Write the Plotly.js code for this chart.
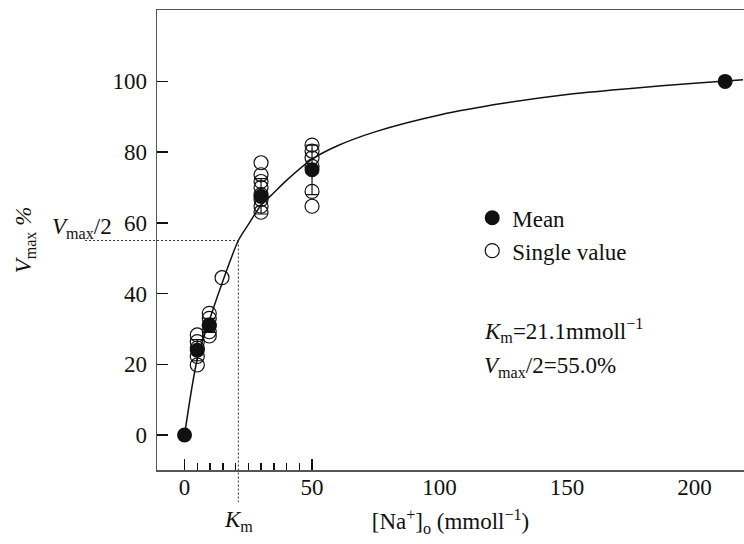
<!DOCTYPE html>
<html>
<head>
<meta charset="utf-8">
<script src="https://cdn.plot.ly/plotly-3.0.1.min.js"></script>
<style>html,body{margin:0;padding:0;background:#fff;}#chart{width:744px;height:544px;}</style>
</head>
<body>
<div id="chart"></div>
<script>
// ---- data ----
var meanX = [0, 5, 9.7, 30, 50, 212];
var meanY = [0, 24, 31, 67.5, 75, 100];
var meanErr = [0, 3, 2, 5, 7, 0];

var singleX = [5, 5, 5, 5, 5, 9.7, 9.7, 9.7, 9.7, 9.7, 14.7, 30, 30, 30, 30, 30, 30, 30, 30, 50, 50, 50, 50, 50, 50];
var singleY = [28.3, 26.4, 24.6, 22.2, 19.8, 34.4, 33, 31.1, 29.2, 28, 44.5, 77, 73.6, 71.7, 70, 68, 66.6, 64.7, 63, 82, 80.3, 78.4, 76, 68.9, 64.7];

var curveX = [0, 5, 10, 15, 21.1, 25, 30, 35, 40, 50, 60, 75, 100, 125, 150, 175, 200, 219];
var curveY = [0, 21.5, 33, 43.5, 55, 59.5, 65, 68.5, 72, 78, 81.8, 85.8, 90.5, 93.8, 96.3, 98, 99.5, 100.5];

var Km = 21.1;
var halfVmax = 55.0;
var xTickVals = [0, 50, 100, 150, 200];
var xLongTickVals = [0, 50];
var xMinorTickVals = [0, 5, 10, 15, 20, 25, 30, 35, 40, 45, 50];
var yTickVals = [0, 20, 40, 60, 80, 100];
var legendNames = ['Mean', 'Single value'];

// ---- layout helpers ----
var xRange = [-10.8, 219.4];
var yRange = [-9.9, 120.2];
function px(x) { return (x - xRange[0]) / (xRange[1] - xRange[0]); }
function py(y) { return (y - yRange[0]) / (yRange[1] - yRange[0]); }
var hLineStart = -39;   // where the dotted Vmax/2 guide starts (data units)
var vLineEnd = -19;     // where the dotted Km guide ends (data units)

var serif = 'Liberation Serif, Times New Roman, serif';
var ink = '#111';
var fs = 23;

var traces = [
  {
    x: curveX, y: curveY, type: 'scatter', mode: 'lines', xaxis: 'x2', yaxis: 'y',
    line: {color: ink, width: 1.5, shape: 'spline', smoothing: 0.8},
    showlegend: false, hoverinfo: 'skip'
  },
  {
    x: singleX, y: singleY, type: 'scatter', mode: 'markers', name: legendNames[1],
    marker: {symbol: 'circle-open', size: 14, color: ink, line: {width: 1.2, color: ink}},
    cliponaxis: false
  },
  {
    x: meanX, y: meanY, type: 'scatter', mode: 'markers', name: legendNames[0],
    marker: {symbol: 'circle', size: 15, color: ink},
    error_y: {type: 'data', array: meanErr, visible: true, color: ink, thickness: 1.2, width: 6},
    cliponaxis: false
  }
];

var layout = {
  width: 744, height: 544,
  margin: {l: 157, r: 0, t: 10, b: 74},
  paper_bgcolor: '#fff', plot_bgcolor: '#fff',
  font: {family: serif, color: ink, size: fs},
  showlegend: true,
  legend: {
    x: 0.537, y: 0.595, xanchor: 'left', yanchor: 'top',
    font: {family: serif, size: fs, color: ink},
    traceorder: 'reversed', tracegroupgap: 6, itemsizing: 'trace',
    bgcolor: 'rgba(0,0,0,0)', borderwidth: 0
  },
  xaxis: {
    range: xRange, showgrid: false, zeroline: false,
    showline: true, linecolor: '#555', linewidth: 1.5, mirror: true,
    tickmode: 'array', tickvals: xTickVals, ticks: '', ticklabelstandoff: -4,
    minor: {tickvals: xMinorTickVals, ticks: 'inside', ticklen: 7, tickwidth: 1.5, tickcolor: ink},
    tickfont: {family: serif, size: fs, color: ink},
    title: {text: '[Na<sup>+</sup>]<sub>o</sub> (mmoll<sup>−1</sup>)', font: {family: serif, size: fs, color: ink}, standoff: 14}
  },
  xaxis2: {
    overlaying: 'x', matches: 'x', anchor: 'y', side: 'bottom',
    showgrid: false, zeroline: false, showline: false,
    tickmode: 'array', tickvals: xLongTickVals, ticks: 'inside', ticklen: 11, tickwidth: 1.5, tickcolor: ink,
    showticklabels: false
  },
  yaxis: {
    range: yRange, showgrid: false, zeroline: false,
    showline: true, linecolor: '#555', linewidth: 1.5, mirror: false,
    tickmode: 'array', tickvals: yTickVals, ticks: 'inside', ticklen: 11, tickwidth: 1.5, tickcolor: ink,
    ticklabelstandoff: 4,
    tickfont: {family: serif, size: fs, color: ink},
    title: {text: '<i>V</i><sub>max</sub> <i>%</i>', font: {family: serif, size: fs, color: ink}, standoff: 74}
  },
  shapes: [
    {type: 'line', xref: 'paper', yref: 'paper', x0: px(hLineStart), x1: px(Km), y0: py(halfVmax), y1: py(halfVmax),
     line: {color: '#333', width: 1, dash: '2px,2px'}},
    {type: 'line', xref: 'paper', yref: 'paper', x0: px(Km), x1: px(Km), y0: py(halfVmax), y1: py(vLineEnd),
     line: {color: '#333', width: 1, dash: '2px,2px'}}
  ],
  annotations: [
    {xref: 'paper', yref: 'paper', x: px(-27.5), y: py(58.5), xanchor: 'right', yanchor: 'middle', showarrow: false,
     text: '<i>V</i><sub>max</sub>/2', font: {family: serif, size: fs, color: ink}},
    {xref: 'paper', yref: 'paper', x: px(Km), y: -0.11, xanchor: 'center', yanchor: 'middle', showarrow: false,
     text: '<i>K</i><sub>m</sub>', font: {family: serif, size: fs, color: ink}},
    {xref: 'paper', yref: 'paper', x: 0.553, y: 0.304, xanchor: 'left', yanchor: 'middle', showarrow: false,
     text: '<i>K</i><sub>m</sub>=' + Km.toFixed(1) + 'mmoll<sup>−1</sup>', font: {family: serif, size: fs, color: ink}},
    {xref: 'paper', yref: 'paper', x: 0.553, y: 0.225, xanchor: 'left', yanchor: 'middle', showarrow: false,
     text: '<i>V</i><sub>max</sub>/2=' + halfVmax.toFixed(1) + '%', font: {family: serif, size: fs, color: ink}}
  ]
};

Plotly.newPlot('chart', traces, layout, {displayModeBar: false, staticPlot: true});
</script>
</body>
</html>
